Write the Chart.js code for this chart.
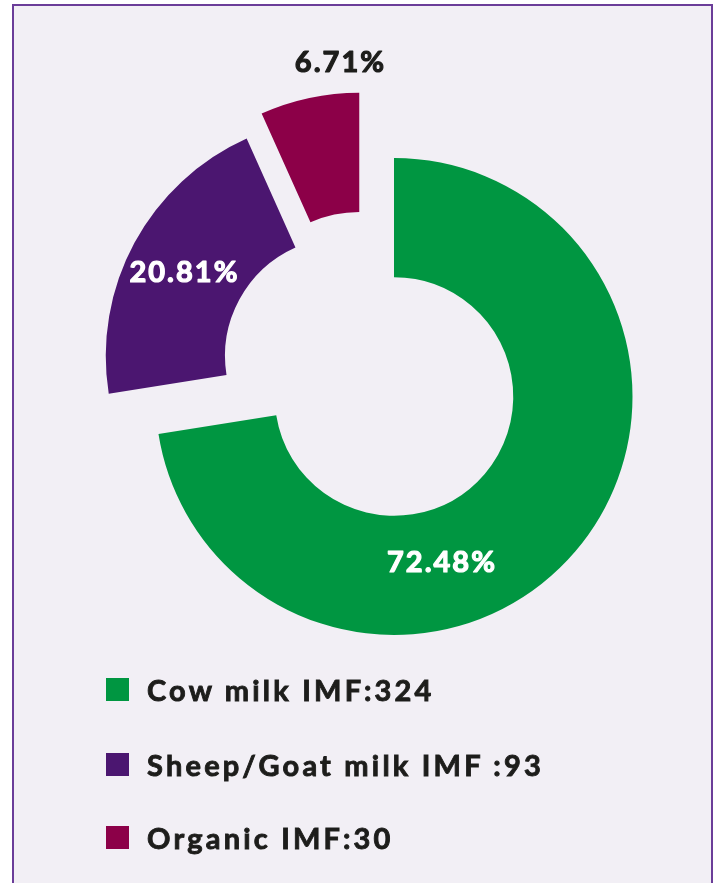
<!DOCTYPE html>
<html>
<head>
<meta charset="utf-8">
<script src="https://cdn.jsdelivr.net/npm/chart.js@4/dist/chart.umd.min.js"></script>
<style>
  body { margin: 0; background: #ffffff; width: 717px; height: 883px; overflow: hidden; position: relative; }
  #frame {
    position: absolute; left: 12px; top: 4px; width: 697px; height: 900px;
    background: #f2eff5; border: 2px solid #6b3d99; border-bottom: none;
  }
  #wrap { position: absolute; left: 0; top: 0; width: 717px; height: 883px; }
  .legend-row {
    position: absolute; left: 106px; height: 23px; display: flex; align-items: center;
    font-family: Lato, sans-serif; font-weight: 700; font-size: 29px; color: #1d1d1b;
    letter-spacing: 3.2px; white-space: nowrap;
    -webkit-text-stroke: 0.9px #1d1d1b;
  }
  .legend-row .box { width: 23px; height: 23px; margin-right: 18px; flex: none; }
</style>
</head>
<body>
<div id="frame"></div>
<div id="wrap"><canvas id="pieChart"></canvas></div>
<div id="legend"></div>
<script>
const categories = ['Cow milk IMF:324', 'Sheep/Goat milk IMF :93', 'Organic IMF:30'];
const counts = [324, 93, 30];
const sliceColors = ['#009641', '#4b1670', '#8c0048'];
const labelColors = ['#ffffff', '#ffffff', '#1d1d1b'];

// explode distance (px) and direction (deg clockwise from top) per slice
const explode = [
    { dist: 0, deg: 0 },
    { dist: 64, deg: 309 },
    { dist: 74, deg: 332 }
];
// where each percentage label sits, relative to its slice centre
const labelPlace = [
    { deg: 163.8, r: 172 },
    { deg: 298, r: 181 },
    { deg: 356, r: 270 }
];
const legendTops = [678, 753, 826];

const total = counts.reduce((a, b) => a + b, 0);
const percents = counts.map(v => (v / total * 100).toFixed(2) + '%');

const explodePlugin = {
    id: 'explodeSlices',
    afterDatasetUpdate(chart, args) {
        args.meta.data.forEach((arc, i) => {
            const e = explode[i];
            const a = e.deg * Math.PI / 180;
            arc.x += Math.sin(a) * e.dist;
            arc.y -= Math.cos(a) * e.dist;
        });
    }
};

const labelPlugin = {
    id: 'sliceLabels',
    afterDatasetsDraw(chart) {
        const ctx = chart.ctx;
        const arcs = chart.getDatasetMeta(0).data;
        ctx.save();
        ctx.font = '700 29px Lato, sans-serif';
        ctx.letterSpacing = '2px';
        ctx.textAlign = 'center';
        ctx.textBaseline = 'alphabetic';
        ctx.lineWidth = 1.2;
        ctx.lineJoin = 'round';
        arcs.forEach((arc, i) => {
            const p = labelPlace[i];
            const a = p.deg * Math.PI / 180;
            const x = arc.x + Math.sin(a) * p.r;
            const y = arc.y - Math.cos(a) * p.r;
            ctx.fillStyle = labelColors[i];
            ctx.strokeStyle = labelColors[i];
            ctx.fillText(percents[i], x, y + 10.5);
            ctx.strokeText(percents[i], x, y + 10.5);
        });
        ctx.restore();
    }
};

const ctx = document.getElementById('pieChart').getContext('2d');
const pieChart = new Chart(ctx, {
    type: 'doughnut',
    data: {
        labels: categories,
        datasets: [{
            data: counts,
            backgroundColor: sliceColors,
            borderWidth: 0
        }]
    },
    options: {
        responsive: true,
        maintainAspectRatio: false,
        animation: false,
        radius: 238.5,
        cutout: '50%',
        layout: { padding: { left: 71, right: 0, top: 0, bottom: 90 } },
        plugins: {
            legend: { display: false },
            tooltip: { enabled: false }
        },
        events: []
    },
    plugins: [explodePlugin, labelPlugin]
});

const legend = document.getElementById('legend');
categories.forEach((name, i) => {
    const row = document.createElement('div');
    row.className = 'legend-row';
    row.style.top = legendTops[i] + 'px';
    row.innerHTML = `<span class="box" style="background:${sliceColors[i]}"></span><span>${name}</span>`;
    legend.appendChild(row);
});
</script>
</body>
</html>
